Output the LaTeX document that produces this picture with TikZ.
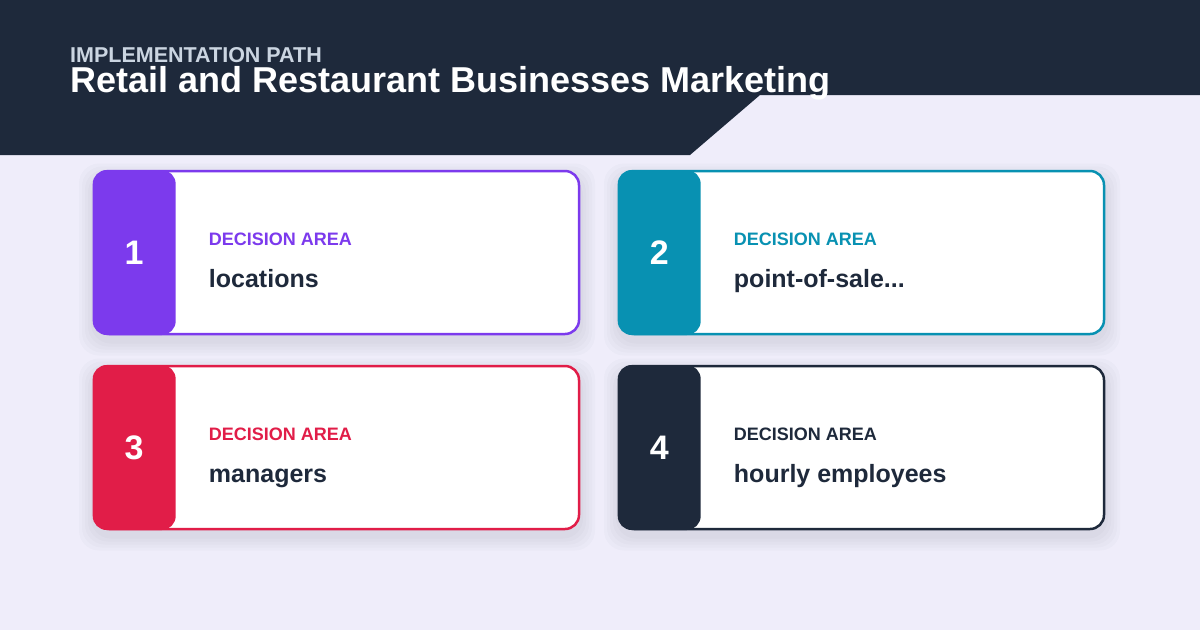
\documentclass[tikz,border=0pt]{standalone}
\usepackage{fontspec}
\setmainfont{Liberation Sans}
\usepackage{xcolor}
\usetikzlibrary{positioning, calc}

\definecolor{bgpage}{HTML}{EFEDFA}
\definecolor{navy}{HTML}{1E293B}
\definecolor{subgray}{HTML}{CBD5E1}
\definecolor{violet}{HTML}{7C3AED}
\definecolor{teal}{HTML}{0891B2}
\definecolor{rose}{HTML}{E11D48}

\tikzset{
  card/.style={draw=#1, line width=2.5pt, fill=white, rounded corners=14pt, minimum width=484pt, minimum height=163pt},
  badge/.style={fill=#1, rounded corners=14pt, minimum width=83pt, minimum height=165pt, text=white, font=\bfseries\fontsize{34}{40}\selectfont, anchor=west},
  kicker/.style={text=#1, font=\bfseries\fontsize{18}{22}\selectfont, anchor=base west, inner sep=0pt},
  item/.style={text=navy, font=\bfseries\fontsize{25}{30}\selectfont, anchor=base west, inner sep=0pt},
  shade/.style={fill=navy, opacity=0.02, rounded corners=20pt}
}

\begin{document}
\begin{tikzpicture}[x=1pt, y=-1pt]
\useasboundingbox (0,0) rectangle (1200,630);
\fill[bgpage] (0,0) rectangle (1200,630);

% Header band
\fill[navy] (0,0) -- (1200,0) -- (1200,95) -- (760,95) -- (690,155) -- (0,155) -- cycle;
\node[text=subgray, font=\bfseries\fontsize{21.5}{25}\selectfont, anchor=base west, inner sep=0pt] (kick) at (70,62) {IMPLEMENTATION PATH};
\node[text=white, font=\bfseries\fontsize{36}{42}\selectfont, anchor=base west, inner sep=0pt] (title) at (70,92) {Retail and Restaurant Businesses Marketing};

% Soft shadows
\foreach \cx/\cy in {337/258, 862/258, 337/453, 862/453} {
  \foreach \g in {3,6,9,12,15} {
    \fill[shade] (\cx-243-\g,\cy-82.5-\g+3) rectangle (\cx+243+\g,\cy+82.5+\g);
  }
}

% Cards
\node[card=violet] (c1) at (337,252.5) {};
\node[card=teal] (c2) at (862,252.5) {};
\node[card=rose] (c3) at (337,447.5) {};
\node[card=navy] (c4) at (862,447.5) {};

% Number blocks
\node[badge=violet] (b1) at ($(c1.west)+(-1.25,0)$) {1};
\node[badge=teal] (b2) at ($(c2.west)+(-1.25,0)$) {2};
\node[badge=rose] (b3) at ($(c3.west)+(-1.25,0)$) {3};
\node[badge=navy] (b4) at ($(c4.west)+(-1.25,0)$) {4};

% Labels
\node[kicker=violet] (k1) at ($(c1.west)+(115,-7.5)$) {DECISION AREA};
\node[item] (t1) at ($(c1.west)+(115,34.5)$) {locations};
\node[kicker=teal] (k2) at ($(c2.west)+(115,-7.5)$) {DECISION AREA};
\node[item] (t2) at ($(c2.west)+(115,34.5)$) {point-of-sale...};
\node[kicker=rose] (k3) at ($(c3.west)+(115,-7.5)$) {DECISION AREA};
\node[item] (t3) at ($(c3.west)+(115,34.5)$) {managers};
\node[kicker=navy] (k4) at ($(c4.west)+(115,-7.5)$) {DECISION AREA};
\node[item] (t4) at ($(c4.west)+(115,34.5)$) {hourly employees};
\end{tikzpicture}
\end{document}
